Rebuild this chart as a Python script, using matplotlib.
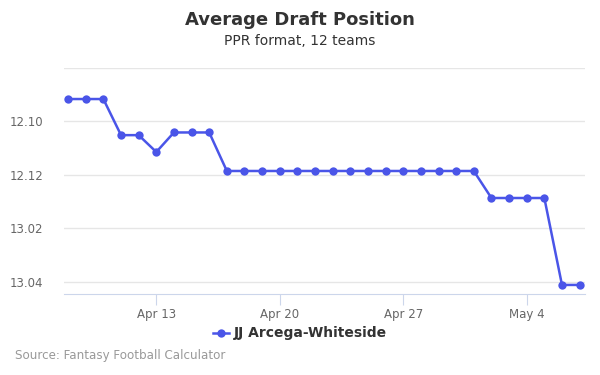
import matplotlib
matplotlib.use("Agg")
import matplotlib.pyplot as plt
import matplotlib.dates as mdates
from matplotlib.ticker import FixedLocator, FuncFormatter
import datetime as dt

dates = [dt.date(2019, 4, 8) + dt.timedelta(days=i) for i in range(30)]
adp = [141.16, 141.16, 141.16, 142.51, 142.51, 143.14, 142.41, 142.41, 142.41,
       143.85, 143.85, 143.85, 143.85, 143.85, 143.85, 143.85, 143.85, 143.85,
       143.85, 143.85, 143.85, 143.85, 143.85, 143.85,
       144.86, 144.86, 144.86, 144.86, 148.11, 148.11]
ytick_vals = [140, 142, 144, 146, 148]
xtick_dates = [dt.date(2019, 4, 13), dt.date(2019, 4, 20), dt.date(2019, 4, 27), dt.date(2019, 5, 4)]
xtick_labels = ["Apr 13", "Apr 20", "Apr 27", "May 4"]
series_name = "JJ Arcega-Whiteside"
teams = 12

def fmt(v, pos=None):
    v = int(round(v))
    if v == 140:
        return ""
    r = (v - 1) // teams + 1
    p = (v - 1) % teams + 1
    return f"{r}.{p:02d}"

fig = plt.figure(figsize=(6, 3.75), dpi=100)
W, H = 600, 375
ax = fig.add_axes([64 / W, 1 - 294.3 / H, (585 - 64) / W, (294.3 - 68) / H])

color = "#4a55e8"
ax.plot(dates, adp, color=color, lw=1.8, marker="o", ms=6, mew=0, zorder=3, clip_on=False)

ax.set_ylim(148.46, 140)
ax.yaxis.set_major_locator(FixedLocator(ytick_vals))
ax.yaxis.set_major_formatter(FuncFormatter(fmt))
x0 = mdates.date2num(dt.datetime(2019, 4, 13)) - 92.3 / 17.64
x1 = mdates.date2num(dt.datetime(2019, 5, 4)) + 58.3 / 17.64
ax.set_xlim(x0, x1)
ax.set_xticks([mdates.date2num(d) for d in xtick_dates])
ax.set_xticklabels(xtick_labels)

ax.grid(axis="y", color="#e6e6e6", lw=1)
ax.set_axisbelow(True)
for s in ["top", "right", "left"]:
    ax.spines[s].set_visible(False)
ax.spines["bottom"].set_color("#ccd6eb")
ax.tick_params(axis="y", length=0, labelsize=8.5, labelcolor="#666666", pad=15)
ax.tick_params(axis="x", length=8, color="#ccd6eb", labelsize=8.5, labelcolor="#666666", pad=2)

fig.text(0.5, 1 - 20 / H, "Average Draft Position", ha="center", va="center",
         fontsize=13, fontweight="bold", color="#333333")
fig.text(0.5, 1 - 41 / H, "PPR format, 12 teams", ha="center", va="center",
         fontsize=10, color="#333333")

# legend
ly = 1 - 333 / H
fig.lines.append(plt.Line2D([213 / W, 221 / W, 229 / W], [ly, ly, ly], color=color, lw=1.8,
                            marker="o", ms=6, mew=0, markevery=[1], transform=fig.transFigure))
fig.text(234 / W, ly, series_name, ha="left", va="center", fontsize=10,
         fontweight="bold", color="#333333")

fig.text(15 / W, 1 - 356 / H, "Source: Fantasy Football Calculator", ha="left", va="center",
         fontsize=8.6, color="#999999")

fig.savefig("out.png", dpi=100)
